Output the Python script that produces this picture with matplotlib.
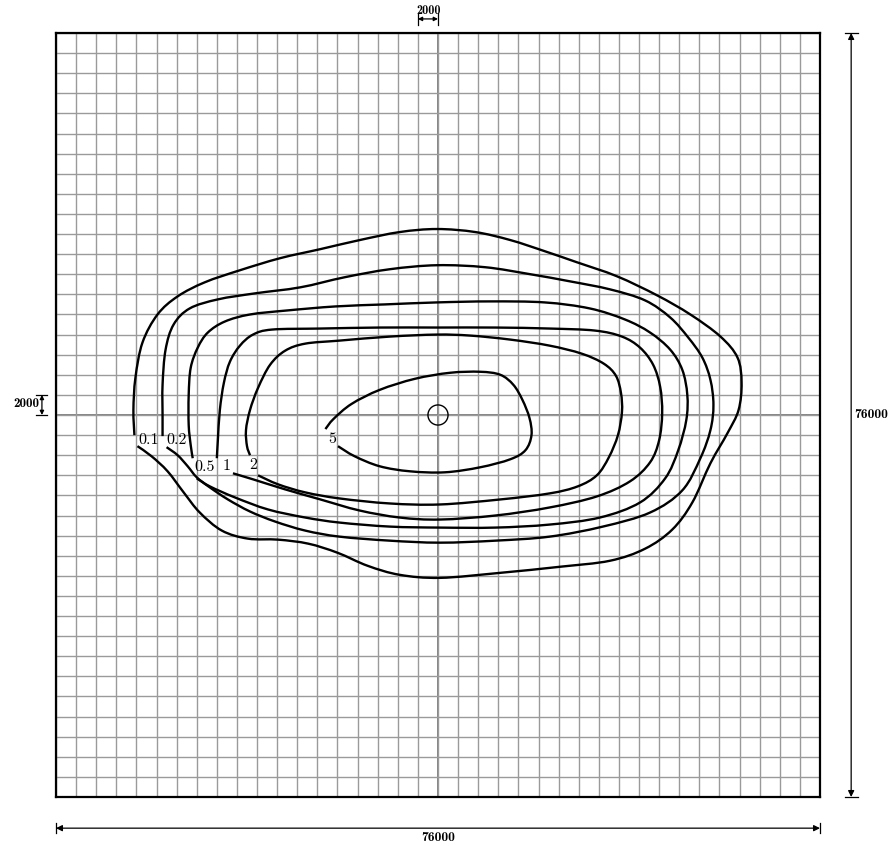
import numpy as np
import matplotlib
matplotlib.use("Agg")
import matplotlib.pyplot as plt
from matplotlib.path import Path
from matplotlib.patches import PathPatch, Circle

# ---------------- data (metres) ----------------
extent = 76000
cell = 2000

levels = ["0.1", "0.2", "0.5", "1", "2", "5"]

c01_x = [-29900, -28500, -26900, -25300, -23700, -21500, -18900, -15900, -12900, -10000, -7000, -3800, 200,
         6200, 12100, 17100, 20600, 23300, 25300, 27100, 28800, 29900, 30200, 29800, 28100, 25100, 21800,
         17800, 13800, 10600, 7200, 3700, -100, -3800, -7800, -11700, -15700, -19700, -23200, -25900,
         -27900, -29400, -30100, -30300, -30200]
c01_y = [-3100, -4100, -5600, -7700, -9700, -11500, -12300, -12400, -12800, -13700, -15000, -15900, -16200,
         -15700, -15100, -14500, -13300, -11400, -8700, -4800, -1800, 500, 3200, 5700, 7800, 10000, 11900,
         13800, 15200, 16300, 17400, 18200, 18500, 18200, 17400, 16500, 15600, 14400, 13200, 11800,
         10000, 7200, 3700, 500, -2000]

c02_x = [-27000, -25900, -24900, -24000, -22700, -20900, -18700, -16200, -13200, -9800, -4800, 200, 5700,
         11100, 16400, 21100, 24300, 26100, 27100, 27400, 27100, 26300, 24900, 23100, 20600, 17100, 13100,
         9200, 4700, -100, -4800, -9300, -13700, -18200, -21900, -24700, -26300, -27100, -27400, -27400,
         -27400]
c02_y = [-3200, -4000, -5100, -6200, -7200, -8400, -9600, -10600, -11500, -12100, -12500, -12700, -12500,
         -12100, -11100, -9700, -7500, -4300, -1500, 1000, 3500, 5700, 7700, 9700, 11400, 12500, 13300,
         14000, 14700, 14900, 14500, 13700, 12700, 12100, 11500, 10600, 9000, 6500, 3000, 0,
         -2100]

c05_x = [-24000, -22700, -20200, -16900, -13200, -9800, -4800, 200, 5700, 11100, 16100, 20100, 22600, 23900,
         24700, 24800, 24300, 23100, 21100, 18600, 15100, 10600, 5200, -100, -5300, -10200, -15000, -18700,
         -21200, -22900, -23900, -24600, -24800, -24800, -24600, -24400]
c05_y = [-6300, -7100, -8200, -9400, -10200, -10700, -11100, -11200, -11200, -10900, -10200, -8700, -6300,
         -3500, -500, 2000, 4500, 6500, 8200, 9500, 10600, 11200, 11300, 11200, 11000, 10800, 10400, 10000,
         9300, 8200, 6700, 4700, 2000, -1000, -3000, -4300]

c1_x = [-20400, -18400, -15200, -11700, -7800, -3800, 200, 5700, 11100, 15800, 19100, 21100, 22000, 22300,
        22100, 21400, 20100, 18300, 15600, 11100, 5700, -100, -5800, -11700, -16500, -18400, -19700, -20700,
        -21300, -21700, -21900, -22000]
c1_y = [-5800, -6400, -7400, -8400, -9500, -10200, -10400, -10000, -9200, -8100, -6600, -4700, -2500, 200,
        2800, 5000, 6700, 7800, 8400, 8600, 8700, 8700, 8700, 8600, 8500, 8000, 6900, 5300,
        3200, 500, -2500, -4300]

c2_x = [-17900, -15900, -13200, -9800, -4800, 200, 6200, 11100, 13900, 15800, 17000, 17900, 18300, 18200,
        17700, 16500, 14300, 11100, 7200, 3200, -100, -4800, -9800, -13200, -15200, -16700, -17900, -18700,
        -19100, -19000, -18700]
c2_y = [-6000, -6900, -7700, -8300, -8800, -8900, -8400, -7800, -7100, -6000, -4200, -2000, 300, 2200,
        3900, 5100, 6100, 6900, 7500, 7900, 8000, 7800, 7400, 7100, 6400, 5000, 2700, 500,
        -1500, -3100, -4000]

c5_x = [-9950, -8300, -5800, -2800, 700, 4200, 7200, 8700, 9300, 9100, 8400, 7500, 6200, 4200, 1200, -2300,
        -5800, -8600, -10400, -11200]
c5_y = [-3100, -4100, -5100, -5600, -5700, -5200, -4400, -3500, -2000, -300, 1500, 3000, 4000, 4300, 4200,
        3600, 2500, 1100, -400, -1400]

label_x = [-28800, -26000, -23200, -21000, -18400, -10500]
label_y = [-2500, -2500, -5200, -5100, -5000, -2400]

source_x, source_y, source_r = 0, 0, 1000

contours_x = [c01_x, c02_x, c05_x, c1_x, c2_x, c5_x]
contours_y = [c01_y, c02_y, c05_y, c1_y, c2_y, c5_y]


def smooth_path(xs, ys):
    """Open Catmull-Rom curve expressed as cubic Bezier segments."""
    p = np.column_stack([xs, ys]).astype(float)
    ext = np.vstack([p[0], p, p[-1]])
    verts = [p[0]]
    codes = [Path.MOVETO]
    for i in range(1, len(ext) - 2):
        p0, p1, p2, p3 = ext[i - 1], ext[i], ext[i + 1], ext[i + 2]
        c1 = p1 + (p2 - p0) / 6.0
        c2 = p2 - (p3 - p1) / 6.0
        verts += [c1, c2, p2]
        codes += [Path.CURVE4] * 3
    return Path(verts, codes)


# ---------------- figure ----------------
W, H = 891, 846
fig = plt.figure(figsize=(W / 100, H / 100), dpi=100)
ax = fig.add_axes([56 / W, 49 / H, 764 / W, 764 / H])
half = extent / 2
ax.set_xlim(-half, half)
ax.set_ylim(-half, half)

ticks = np.arange(-half, half + 1, cell)
ax.set_xticks(ticks)
ax.set_yticks(ticks)
ax.tick_params(length=0, labelbottom=False, labelleft=False)
ax.grid(True, color="#9a9a9a", linewidth=1.0)
ax.axvline(0, color="#7a7a7a", linewidth=1.3, zorder=1)
ax.axhline(0, color="#7a7a7a", linewidth=1.3, zorder=1)
for s in ax.spines.values():
    s.set_linewidth(1.6)
    s.set_color("black")
    s.set_zorder(5)

for xs, ys in zip(contours_x, contours_y):
    ax.add_patch(PathPatch(smooth_path(xs, ys), facecolor="none", edgecolor="black",
                           linewidth=1.7, zorder=3))

for lab, lx, ly in zip(levels, label_x, label_y):
    ax.text(lx, ly, lab, fontfamily="cmr10", fontsize=11.5, ha="center", va="center", zorder=4)

ax.add_patch(Circle((source_x, source_y), source_r, facecolor="none", edgecolor="black",
                    linewidth=1.0, zorder=4))

# ---------------- dimension lines ----------------
k = dict(color="black", linewidth=0.9, clip_on=False)
arrow = dict(arrowstyle="<|-|>", color="black", lw=0.9, mutation_scale=9,
             shrinkA=0, shrinkB=0)

# right: total height
xr = 41100
ax.annotate("", xy=(xr, half), xytext=(xr, -half), arrowprops=arrow, annotation_clip=False)
for yy in (half, -half):
    ax.plot([xr - 650, xr + 650], [yy, yy], **k)
ax.text(41400, 0, "76000", fontfamily="cmb10", fontsize=9.8, ha="left", va="center")

# bottom: total width
yb = -41100
ax.annotate("", xy=(-half, yb), xytext=(half, yb), arrowprops=arrow, annotation_clip=False)
for xx in (-half, half):
    ax.plot([xx, xx], [yb - 500, yb + 500], **k)
ax.text(0, -41500, "76000", fontfamily="cmb10", fontsize=9.8, ha="center", va="top")

# top: one cell width
yt = 39400
arrow_s = dict(arrow, mutation_scale=6)
ax.annotate("", xy=(-cell, yt), xytext=(0, yt), arrowprops=arrow_s, annotation_clip=False)
for xx in (-cell, 0):
    ax.plot([xx, xx], [yt - 600, yt + 600], **k)
ax.text(-900, 40200, "2000", fontfamily="cmb10", fontsize=8.8, ha="center", va="center")

# left: one cell height
xl = -39400
ax.annotate("", xy=(xl, 0), xytext=(xl, cell), arrowprops=arrow_s, annotation_clip=False)
for yy in (0, cell):
    ax.plot([xl - 550, xl + 550], [yy, yy], **k)
ax.text(-39650, 1100, "2000", fontfamily="cmb10", fontsize=9.5, ha="right", va="center")

fig.savefig("out.png", dpi=100)
